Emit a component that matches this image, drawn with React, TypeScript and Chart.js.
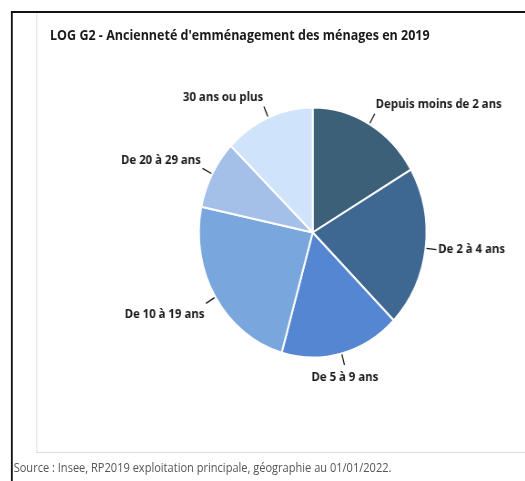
import React, { useEffect, useRef } from "react";
import { Chart, registerables } from "chart.js";

Chart.register(...registerables);

const categories = [
  "Depuis moins de 2 ans",
  "De 2 à 4 ans",
  "De 5 à 9 ans",
  "De 10 à 19 ans",
  "De 20 à 29 ans",
  "30 ans ou plus",
];
const shares = [16.6, 20.8, 17.0, 23.9, 8.9, 12.8];
const sliceColors = ["#3d6079", "#3e6892", "#5486d2", "#7aa6de", "#a4c0e8", "#cfe4fb"];

const titleText = "LOG G2 - Ancienneté d'emménagement des ménages en 2019";
const sourceText = "Source : Insee, RP2019 exploitation principale, géographie au 01/01/2022.";

const SX = 0.91;
const W = 577;
const H = 481;

const labelPlugin = {
  id: "outLabels",
  afterDatasetsDraw(chart: any) {
    const ctx = chart.ctx;
    const meta = chart.getDatasetMeta(0);
    ctx.save();
    ctx.font = "bold 12.5px 'Open Sans'";
    ctx.fillStyle = "#1a1a1a";
    ctx.strokeStyle = "#1a1a1a";
    ctx.lineWidth = 1.3;
    meta.data.forEach((arc: any, i: number) => {
      const a = (arc.startAngle + arc.endAngle) / 2;
      const c = Math.cos(a);
      const s = Math.sin(a);
      const r = arc.outerRadius;
      ctx.beginPath();
      ctx.moveTo(arc.x + c * (r + 1), arc.y + s * (r + 1));
      ctx.lineTo(arc.x + c * (r + 12), arc.y + s * (r + 12));
      ctx.stroke();
      let tx = arc.x + c * (r + 14);
      let ty = arc.y + s * (r + 14);
      ctx.textAlign = c > 0.3 ? "left" : c < -0.3 ? "right" : "center";
      if (s < -0.3) {
        ctx.textBaseline = "bottom";
        ty -= 1;
      } else if (s > 0.3) {
        ctx.textBaseline = "top";
        ty += 4;
      } else {
        ctx.textBaseline = "middle";
      }
      ctx.fillText(chart.data.labels[i], tx, ty);
    });
    ctx.restore();
  },
};

export default function App() {
  const canvasRef = useRef<HTMLCanvasElement | null>(null);

  useEffect(() => {
    if (!canvasRef.current) return;
    const cx = 343.6;
    const cy = 232.5;
    const half = 126;
    const chart = new Chart(canvasRef.current, {
      type: "pie",
      data: {
        labels: categories,
        datasets: [
          {
            data: shares,
            backgroundColor: sliceColors,
            borderColor: "#ffffff",
            borderWidth: 2,
          },
        ],
      },
      options: {
        animation: false,
        responsive: false,
        devicePixelRatio: 1,
        layout: {
          padding: {
            left: cx - half,
            right: W - (cx + half),
            top: cy - half,
            bottom: H - (cy + half),
          },
        },
        plugins: {
          legend: { display: false },
          tooltip: { enabled: false },
        },
      },
      plugins: [labelPlugin],
    });
    return () => chart.destroy();
  }, []);

  return (
    <div
      style={{
        position: "fixed",
        left: 0,
        top: 0,
        width: 525,
        height: 481,
        overflow: "hidden",
        background: "#fff",
      }}
    >
      <div
        style={{
          position: "absolute",
          left: 0,
          top: 0,
          width: W,
          height: H,
          transform: `scaleX(${SX})`,
          transformOrigin: "0 0",
          fontFamily: "'Open Sans', sans-serif",
        }}
      >
        <div
          style={{
            position: "absolute",
            left: 39.6,
            top: 12,
            width: W,
            height: 441,
            borderLeft: "1px solid #dcdcdc",
            borderBottom: "1px solid #dcdcdc",
            boxSizing: "border-box",
          }}
        />
        <div
          style={{
            position: "absolute",
            left: 12,
            top: 11,
            width: W,
            height: H,
            borderLeft: "2px solid #111",
            borderTop: "2px solid #111",
            boxSizing: "border-box",
          }}
        />
        <canvas
          ref={canvasRef}
          width={W}
          height={H}
          style={{ position: "absolute", left: 0, top: 0, width: W, height: H }}
        />
        <div
          style={{
            position: "absolute",
            left: 55,
            top: 25,
            fontSize: 13.75,
            lineHeight: "19px",
            fontWeight: 700,
            color: "#1a1a1a",
            whiteSpace: "nowrap",
          }}
        >
          {titleText}
        </div>
        <div
          style={{
            position: "absolute",
            left: 15,
            top: 458.5,
            fontSize: 12.15,
            lineHeight: "17px",
            color: "#555",
            whiteSpace: "nowrap",
          }}
        >
          {sourceText}
        </div>
      </div>
    </div>
  );
}
